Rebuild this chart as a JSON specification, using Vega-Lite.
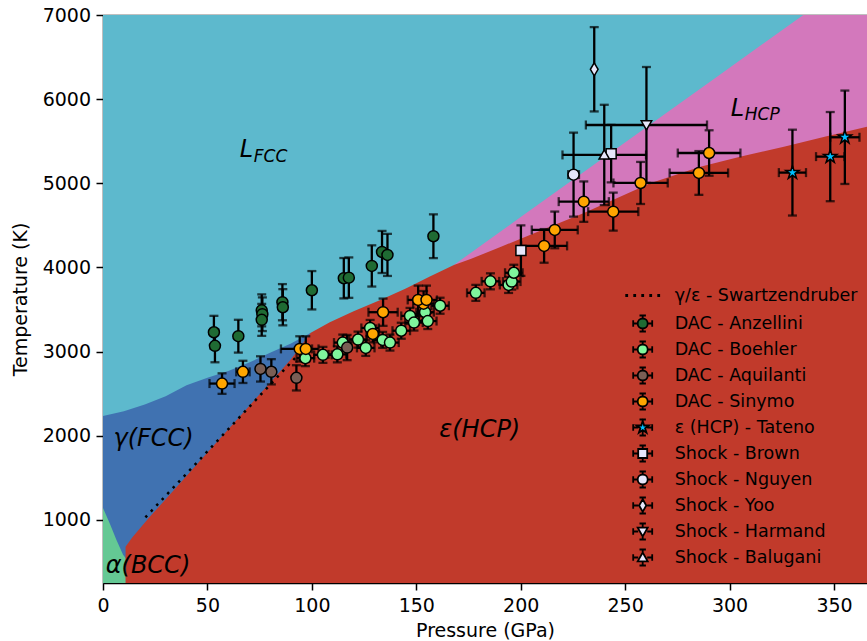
{
  "$schema": "https://vega.github.io/schema/vega-lite/v6.json",
  "width": 764,
  "height": 568,
  "autosize": {"type": "none"},
  "padding": {"left": 103, "top": 15, "right": 0, "bottom": 58},
  "background": "white",
  "config": {
    "view": {"stroke": null},
    "font": "DejaVu Sans",
    "axis": {
      "labelFont": "DejaVu Sans", "labelFontSize": 19, "labelColor": "black",
      "titleFont": "DejaVu Sans", "titleFontSize": 19, "titleFontWeight": "normal", "titleColor": "black",
      "domainColor": "black", "domainWidth": 1.5, "tickColor": "black", "tickWidth": 1.5, "tickSize": 7,
      "grid": false, "zindex": 1, "format": "d"
    }
  },
  "datasets": {
    "pts": [
      {"s": "DAC - Anzellini", "p": 53.1, "t": 3230, "pe": 0, "te": 195},
      {"s": "DAC - Anzellini", "p": 53.6, "t": 3068, "pe": 0, "te": 195},
      {"s": "DAC - Anzellini", "p": 64.8, "t": 3183, "pe": 0, "te": 195},
      {"s": "DAC - Anzellini", "p": 76.0, "t": 3490, "pe": 0, "te": 190},
      {"s": "DAC - Anzellini", "p": 76.3, "t": 3444, "pe": 0, "te": 200},
      {"s": "DAC - Anzellini", "p": 76.0, "t": 3377, "pe": 0, "te": 190},
      {"s": "DAC - Anzellini", "p": 85.9, "t": 3587, "pe": 0, "te": 215},
      {"s": "DAC - Anzellini", "p": 86.1, "t": 3527, "pe": 0, "te": 215},
      {"s": "DAC - Anzellini", "p": 100.0, "t": 3729, "pe": 0, "te": 228},
      {"s": "DAC - Anzellini", "p": 115.3, "t": 3872, "pe": 0, "te": 240},
      {"s": "DAC - Anzellini", "p": 117.7, "t": 3879, "pe": 0, "te": 240},
      {"s": "DAC - Anzellini", "p": 128.7, "t": 4018, "pe": 0, "te": 245},
      {"s": "DAC - Anzellini", "p": 133.6, "t": 4184, "pe": 0, "te": 250},
      {"s": "DAC - Anzellini", "p": 136.2, "t": 4149, "pe": 0, "te": 250},
      {"s": "DAC - Anzellini", "p": 158.2, "t": 4371, "pe": 0, "te": 260},
      {"s": "DAC - Boehler", "p": 96.9, "t": 2922, "pe": 4.2, "te": 95},
      {"s": "DAC - Boehler", "p": 105.3, "t": 2961, "pe": 4.2, "te": 95},
      {"s": "DAC - Boehler", "p": 112.2, "t": 2967, "pe": 4.2, "te": 95},
      {"s": "DAC - Boehler", "p": 114.8, "t": 3107, "pe": 4.2, "te": 95},
      {"s": "DAC - Boehler", "p": 122.1, "t": 3143, "pe": 4.2, "te": 95},
      {"s": "DAC - Boehler", "p": 125.8, "t": 3044, "pe": 4.2, "te": 95},
      {"s": "DAC - Boehler", "p": 127.9, "t": 3281, "pe": 4.2, "te": 95},
      {"s": "DAC - Boehler", "p": 133.9, "t": 3139, "pe": 4.2, "te": 95},
      {"s": "DAC - Boehler", "p": 137.4, "t": 3107, "pe": 4.2, "te": 95},
      {"s": "DAC - Boehler", "p": 142.8, "t": 3248, "pe": 4.2, "te": 95},
      {"s": "DAC - Boehler", "p": 147.0, "t": 3424, "pe": 4.2, "te": 95},
      {"s": "DAC - Boehler", "p": 148.9, "t": 3345, "pe": 4.2, "te": 95},
      {"s": "DAC - Boehler", "p": 154.2, "t": 3468, "pe": 4.2, "te": 95},
      {"s": "DAC - Boehler", "p": 155.5, "t": 3363, "pe": 4.2, "te": 95},
      {"s": "DAC - Boehler", "p": 161.4, "t": 3545, "pe": 4.2, "te": 95},
      {"s": "DAC - Boehler", "p": 178.5, "t": 3698, "pe": 4.2, "te": 95},
      {"s": "DAC - Boehler", "p": 185.5, "t": 3835, "pe": 4.2, "te": 95},
      {"s": "DAC - Boehler", "p": 194.2, "t": 3792, "pe": 4.2, "te": 95},
      {"s": "DAC - Boehler", "p": 195.7, "t": 3832, "pe": 4.2, "te": 95},
      {"s": "DAC - Boehler", "p": 196.7, "t": 3937, "pe": 4.2, "te": 95},
      {"s": "DAC - Aquilanti", "p": 75.4, "t": 2794, "pe": 0, "te": 150},
      {"s": "DAC - Aquilanti", "p": 80.6, "t": 2760, "pe": 0, "te": 150},
      {"s": "DAC - Aquilanti", "p": 92.6, "t": 2688, "pe": 0, "te": 150},
      {"s": "DAC - Aquilanti", "p": 116.9, "t": 3048, "pe": 0, "te": 150},
      {"s": "DAC - Sinymo", "p": 57.0, "t": 2620, "pe": 6, "te": 122},
      {"s": "DAC - Sinymo", "p": 67.0, "t": 2759, "pe": 3.2, "te": 132},
      {"s": "DAC - Sinymo", "p": 94.2, "t": 3032, "pe": 9, "te": 150},
      {"s": "DAC - Sinymo", "p": 97.1, "t": 3032, "pe": 3, "te": 150},
      {"s": "DAC - Sinymo", "p": 129.2, "t": 3210, "pe": 3, "te": 100},
      {"s": "DAC - Sinymo", "p": 134.1, "t": 3468, "pe": 7, "te": 162},
      {"s": "DAC - Sinymo", "p": 153.5, "t": 3570, "pe": 5, "te": 150},
      {"s": "DAC - Sinymo", "p": 150.9, "t": 3614, "pe": 5, "te": 170},
      {"s": "DAC - Sinymo", "p": 154.9, "t": 3614, "pe": 5, "te": 170},
      {"s": "DAC - Sinymo", "p": 211.2, "t": 4256, "pe": 11, "te": 200},
      {"s": "DAC - Sinymo", "p": 216.3, "t": 4446, "pe": 11, "te": 218},
      {"s": "DAC - Sinymo", "p": 230.2, "t": 4782, "pe": 12, "te": 240},
      {"s": "DAC - Sinymo", "p": 244.3, "t": 4663, "pe": 12, "te": 225},
      {"s": "DAC - Sinymo", "p": 257.4, "t": 5004, "pe": 13, "te": 250},
      {"s": "DAC - Sinymo", "p": 285.3, "t": 5123, "pe": 14, "te": 260},
      {"s": "DAC - Sinymo", "p": 290.2, "t": 5360, "pe": 15, "te": 270},
      {"s": "ε (HCP) - Tateno", "p": 330.1, "t": 5127, "pe": 6.5, "te": 510},
      {"s": "ε (HCP) - Tateno", "p": 348.2, "t": 5317, "pe": 6.8, "te": 530},
      {"s": "ε (HCP) - Tateno", "p": 355.2, "t": 5547, "pe": 7, "te": 555},
      {"s": "Shock - Brown", "p": 200.1, "t": 4200, "pe": 0, "te": 300},
      {"s": "Shock - Brown", "p": 243.3, "t": 5352, "pe": 0, "te": 342},
      {"s": "Shock - Nguyen", "p": 225.3, "t": 5103, "pe": 2.6, "te": 499},
      {"s": "Shock - Yoo", "p": 235.2, "t": 6355, "pe": 0, "te": 501},
      {"s": "Shock - Harmand", "p": 260.2, "t": 5693, "pe": 29, "te": 689},
      {"s": "Shock - Balugani", "p": 240.0, "t": 5337, "pe": 20, "te": 596}
    ]
  },
  "layer": [
    {
      "data": {"values": [{"p": 0, "t": 7000}, {"p": 365.8, "t": 7000}]},
      "mark": {"type": "area", "color": "#5db9cd", "clip": true},
      "encoding": {
        "x": {"field": "p", "type": "quantitative", "title": "Pressure (GPa)", "scale": {"domain": [0, 365.8], "nice": false, "zero": false},
              "axis": {"values": [0, 50, 100, 150, 200, 250, 300, 350], "title": "Pressure (GPa)", "labelPadding": 6.5, "titlePadding": 6, "labelFlush": false, "labelOverlap": false, "format": "d"}},
        "y": {"field": "t", "type": "quantitative", "title": "Temperature (K)", "scale": {"domain": [250, 7000], "nice": false, "zero": false},
              "axis": {"values": [1000, 2000, 3000, 4000, 5000, 6000, 7000], "title": "Temperature (K)", "labelPadding": 5.5, "titlePadding": 12, "labelFlush": false, "labelOverlap": false, "format": "d",
                       "grid": true, "gridWidth": 1.5, "gridColor": {"condition": {"test": "datum.value >= 7000", "value": "black"}, "value": "transparent"}}},
        "y2": {"datum": 250}
      }
    },
    {
      "data": {"values": [
        {"p": 0, "t": 2236}, {"p": 10, "t": 2290}, {"p": 20, "t": 2370}, {"p": 30, "t": 2470},
        {"p": 40, "t": 2600}, {"p": 50, "t": 2690}, {"p": 60, "t": 2770}, {"p": 70, "t": 2870},
        {"p": 80, "t": 2985}, {"p": 90, "t": 3095}, {"p": 99.5, "t": 3225}
      ]},
      "mark": {"type": "area", "color": "#4072b1", "clip": true},
      "encoding": {
        "x": {"field": "p", "type": "quantitative", "title": "Pressure (GPa)"},
        "y": {"field": "t", "type": "quantitative", "title": "Temperature (K)"},
        "y2": {"datum": 250}
      }
    },
    {
      "data": {"values": [
        {"p": 0, "t": 1140}, {"p": 3.2, "t": 961}, {"p": 6.4, "t": 763}, {"p": 9.6, "t": 585}, {"p": 11, "t": 540}
      ]},
      "mark": {"type": "area", "color": "#64c894", "clip": true},
      "encoding": {
        "x": {"field": "p", "type": "quantitative", "title": "Pressure (GPa)"},
        "y": {"field": "t", "type": "quantitative", "title": "Temperature (K)"},
        "y2": {"datum": 250}
      }
    },
    {
      "data": {"values": [
        {"p": 168, "t": 4030}, {"p": 176, "t": 4172}, {"p": 200, "t": 4598}, {"p": 230, "t": 5131},
        {"p": 262, "t": 5699}, {"p": 294, "t": 6267}, {"p": 335.3, "t": 7000}, {"p": 366.2, "t": 7000}
      ]},
      "mark": {"type": "area", "color": "#d378bc", "clip": true},
      "encoding": {
        "x": {"field": "p", "type": "quantitative", "title": "Pressure (GPa)"},
        "y": {"field": "t", "type": "quantitative", "title": "Temperature (K)"},
        "y2": {"datum": 250}
      }
    },
    {
      "data": {"values": [
        {"p": 10.8, "t": 680}, {"p": 14, "t": 790}, {"p": 22, "t": 1024}, {"p": 30, "t": 1246},
        {"p": 40, "t": 1523}, {"p": 50, "t": 1800}, {"p": 60, "t": 2077}, {"p": 70, "t": 2354},
        {"p": 80, "t": 2630}, {"p": 90, "t": 2908}, {"p": 99.5, "t": 3225}, {"p": 108.6, "t": 3350},
        {"p": 120, "t": 3480}, {"p": 132.5, "t": 3610}, {"p": 145, "t": 3750}, {"p": 156.5, "t": 3891},
        {"p": 168, "t": 4030}, {"p": 176, "t": 4100}, {"p": 190, "t": 4240}, {"p": 214, "t": 4485},
        {"p": 230, "t": 4644}, {"p": 262, "t": 5000}, {"p": 286, "t": 5198}, {"p": 306, "t": 5320},
        {"p": 326, "t": 5435}, {"p": 346, "t": 5555}, {"p": 366.2, "t": 5675}
      ]},
      "mark": {"type": "area", "color": "#c13a2b", "clip": true},
      "encoding": {
        "x": {"field": "p", "type": "quantitative", "title": "Pressure (GPa)"},
        "y": {"field": "t", "type": "quantitative", "title": "Temperature (K)"},
        "y2": {"datum": 250}
      }
    },
    {
      "data": {"values": [{"p": 20.3, "t": 1030}, {"p": 94.2, "t": 2981}]},
      "mark": {"type": "line", "color": "black", "strokeWidth": 2.5, "strokeDash": [2.5, 5.5], "strokeCap": "butt"},
      "encoding": {
        "x": {"field": "p", "type": "quantitative", "title": "Pressure (GPa)"},
        "y": {"field": "t", "type": "quantitative", "title": "Temperature (K)"}
      }
    },
    {
      "data": {"name": "pts"},
      "transform": [{"filter": "datum.te > 0"}],
      "mark": {"type": "errorbar", "color": "black", "ticks": {"size": 9, "thickness": 2.3, "color": "black"}, "rule": {"strokeWidth": 2.3, "color": "black"}},
      "encoding": {
        "x": {"field": "p", "type": "quantitative", "title": "Pressure (GPa)"},
        "y": {"field": "t", "type": "quantitative", "title": "Temperature (K)"},
        "yError": {"field": "te"}
      }
    },
    {
      "data": {"name": "pts"},
      "transform": [{"filter": "datum.pe > 0"}],
      "mark": {"type": "errorbar", "color": "black", "ticks": {"size": 9, "thickness": 2.3, "color": "black"}, "rule": {"strokeWidth": 2.3, "color": "black"}},
      "encoding": {
        "y": {"field": "t", "type": "quantitative", "title": "Temperature (K)"},
        "x": {"field": "p", "type": "quantitative", "title": "Pressure (GPa)"},
        "xError": {"field": "pe"}
      }
    },
    {
      "data": {"name": "pts"},
      "mark": {"type": "point", "filled": true, "stroke": "black", "strokeWidth": 1.5, "opacity": 1, "size": 121},
      "encoding": {
        "x": {"field": "p", "type": "quantitative", "title": "Pressure (GPa)"},
        "y": {"field": "t", "type": "quantitative", "title": "Temperature (K)"},
        "fill": {"field": "s", "type": "nominal", "legend": null,
          "scale": {"domain": ["DAC - Anzellini", "DAC - Boehler", "DAC - Aquilanti", "DAC - Sinymo", "ε (HCP) - Tateno", "Shock - Brown", "Shock - Nguyen", "Shock - Yoo", "Shock - Harmand", "Shock - Balugani"],
                    "range": ["#1f6b33", "#7ff59c", "#7a5e55", "#ffa500", "#00bfff", "#e6e6fa", "#e6e6fa", "#e6e6fa", "#e6e6fa", "#e6e6fa"]}},
        "shape": {"field": "s", "type": "nominal", "legend": null,
          "scale": {"domain": ["DAC - Anzellini", "DAC - Boehler", "DAC - Aquilanti", "DAC - Sinymo", "ε (HCP) - Tateno", "Shock - Brown", "Shock - Nguyen", "Shock - Yoo", "Shock - Harmand", "Shock - Balugani"],
                    "range": ["circle", "circle", "circle", "circle",
                              "M0,-1.27L0.286,-0.393L1.208,-0.392L0.462,0.15L0.746,1.027L0,0.485L-0.746,1.027L-0.462,0.15L-1.208,-0.392L-0.286,-0.393Z",
                              "M-0.91,-0.91H0.91V0.91H-0.91Z",
                              "circle",
                              "M0,-1.18L0.7,0L0,1.18L-0.7,0Z",
                              "M-0.95,-0.75H0.95L0,0.9Z",
                              "M-0.95,0.75H0.95L0,-0.9Z"]}}
      }
    },
    {
      "data": {"values": [
        {"lab": "γ(FCC)", "p": 5, "t": 1883},
        {"lab": "ε(HCP)", "p": 161, "t": 1987},
        {"lab": "α(BCC)", "p": 1.3, "t": 374},
        {"lab": "L", "p": 65.5, "t": 5313},
        {"lab": "L", "p": 300.6, "t": 5800}
      ]},
      "mark": {"type": "text", "align": "left", "baseline": "alphabetic", "fontSize": 24, "fontStyle": "italic", "font": "DejaVu Sans", "color": "black"},
      "encoding": {
        "x": {"field": "p", "type": "quantitative", "title": "Pressure (GPa)"},
        "y": {"field": "t", "type": "quantitative", "title": "Temperature (K)"},
        "text": {"field": "lab"}
      }
    },
    {
      "data": {"values": [
        {"lab": "FCC", "p": 72.2, "t": 5254},
        {"lab": "HCP", "p": 307.3, "t": 5753}
      ]},
      "mark": {"type": "text", "align": "left", "baseline": "alphabetic", "fontSize": 17, "fontStyle": "italic", "font": "DejaVu Sans", "color": "black"},
      "encoding": {
        "x": {"field": "p", "type": "quantitative", "title": "Pressure (GPa)"},
        "y": {"field": "t", "type": "quantitative", "title": "Temperature (K)"},
        "text": {"field": "lab"}
      }
    },
    {
      "data": {"name": "pts"},
      "transform": [{"filter": "false"}],
      "mark": {"type": "point", "filled": true, "stroke": "black", "strokeWidth": 1.8, "opacity": 1, "size": 400},
      "encoding": {
        "fill": {"field": "s", "type": "nominal",
          "scale": {"domain": ["γ/ε - Swartzendruber", "DAC - Anzellini", "DAC - Boehler", "DAC - Aquilanti", "DAC - Sinymo", "ε (HCP) - Tateno", "Shock - Brown", "Shock - Nguyen", "Shock - Yoo", "Shock - Harmand", "Shock - Balugani"],
                    "range": ["black", "#1f6b33", "#7ff59c", "#7a5e55", "#ffa500", "#00bfff", "#e6e6fa", "#e6e6fa", "#e6e6fa", "#e6e6fa", "#e6e6fa"]},
          "legend": {"title": null, "orient": "none", "legendX": 528.7, "legendY": 269.5, "direction": "vertical", "padding": 0,
                     "labelFont": "DejaVu Sans", "labelFontSize": 17.5, "labelColor": "black", "labelOffset": 21, "labelLimit": 0,
                     "rowPadding": 2.0, "symbolSize": 400, "symbolStrokeColor": "black", "symbolStrokeWidth": 1.8, "symbolOpacity": 1,
                     "encode": {"symbols": {"update": {"stroke": {"value": "black"}, "strokeWidth": {"value": 1.8}, "opacity": {"value": 1}}}}}},
        "shape": {"field": "s", "type": "nominal",
          "scale": {"domain": ["γ/ε - Swartzendruber", "DAC - Anzellini", "DAC - Boehler", "DAC - Aquilanti", "DAC - Sinymo", "ε (HCP) - Tateno", "Shock - Brown", "Shock - Nguyen", "Shock - Yoo", "Shock - Harmand", "Shock - Balugani"],
                    "range": [
                      "M0,-0.97L0,-0.97M0,0.97L0,0.97M-1.65,-0.05h0.1v0.1h-0.1zM-0.85,-0.05h0.1v0.1h-0.1zM-0.05,-0.05h0.1v0.1h-0.1zM0.75,-0.05h0.1v0.1h-0.1zM1.55,-0.05h0.1v0.1h-0.1z",
                      "M0,-0.8V-0.45M0,0.45V0.8M-0.32,-0.8H0.32M-0.32,0.8H0.32M-0.95,0H-0.45M0.45,0H0.95M-0.95,-0.32V0.32M0.95,-0.32V0.32M-0.5,0A0.5 0.5 0 1 0 0.5,0A0.5 0.5 0 1 0 -0.5,0Z",
                      "M0,-0.8V-0.45M0,0.45V0.8M-0.32,-0.8H0.32M-0.32,0.8H0.32M-0.95,0H-0.45M0.45,0H0.95M-0.95,-0.32V0.32M0.95,-0.32V0.32M-0.5,0A0.5 0.5 0 1 0 0.5,0A0.5 0.5 0 1 0 -0.5,0Z",
                      "M0,-0.8V-0.45M0,0.45V0.8M-0.32,-0.8H0.32M-0.32,0.8H0.32M-0.95,0H-0.45M0.45,0H0.95M-0.95,-0.32V0.32M0.95,-0.32V0.32M-0.5,0A0.5 0.5 0 1 0 0.5,0A0.5 0.5 0 1 0 -0.5,0Z",
                      "M0,-0.8V-0.45M0,0.45V0.8M-0.32,-0.8H0.32M-0.32,0.8H0.32M-0.95,0H-0.45M0.45,0H0.95M-0.95,-0.32V0.32M0.95,-0.32V0.32M-0.5,0A0.5 0.5 0 1 0 0.5,0A0.5 0.5 0 1 0 -0.5,0Z",
                      "M0,-0.8V-0.45M0,0.45V0.8M-0.32,-0.8H0.32M-0.32,0.8H0.32M-0.95,0H-0.45M0.45,0H0.95M-0.95,-0.32V0.32M0.95,-0.32V0.32M0,-0.65L0.147,-0.202L0.618,-0.2L0.238,0.077L0.382,0.526L0,0.25L-0.382,0.526L-0.238,0.077L-0.618,-0.2L-0.147,-0.202Z",
                      "M0,-0.8V-0.45M0,0.45V0.8M-0.32,-0.8H0.32M-0.32,0.8H0.32M-0.95,0H-0.45M0.45,0H0.95M-0.95,-0.32V0.32M0.95,-0.32V0.32M-0.45,-0.45H0.45V0.45H-0.45Z",
                      "M0,-0.8V-0.45M0,0.45V0.8M-0.32,-0.8H0.32M-0.32,0.8H0.32M-0.95,0H-0.45M0.45,0H0.95M-0.95,-0.32V0.32M0.95,-0.32V0.32M-0.5,0A0.5 0.5 0 1 0 0.5,0A0.5 0.5 0 1 0 -0.5,0Z",
                      "M0,-0.8V-0.45M0,0.45V0.8M-0.32,-0.8H0.32M-0.32,0.8H0.32M-0.95,0H-0.45M0.45,0H0.95M-0.95,-0.32V0.32M0.95,-0.32V0.32M0,-0.62L0.36,0L0,0.62L-0.36,0Z",
                      "M0,-0.8V-0.45M0,0.45V0.8M-0.32,-0.8H0.32M-0.32,0.8H0.32M-0.95,0H-0.45M0.45,0H0.95M-0.95,-0.32V0.32M0.95,-0.32V0.32M-0.5,-0.38H0.5L0,0.5Z",
                      "M0,-0.8V-0.45M0,0.45V0.8M-0.32,-0.8H0.32M-0.32,0.8H0.32M-0.95,0H-0.45M0.45,0H0.95M-0.95,-0.32V0.32M0.95,-0.32V0.32M-0.5,0.38H0.5L0,-0.5Z"
                    ]},
          "legend": {"title": null, "orient": "none", "legendX": 528.7, "legendY": 269.5, "direction": "vertical", "padding": 0,
                     "labelFont": "DejaVu Sans", "labelFontSize": 17.5, "labelColor": "black", "labelOffset": 21, "labelLimit": 0,
                     "rowPadding": 2.0, "symbolSize": 400, "symbolStrokeColor": "black", "symbolStrokeWidth": 1.8, "symbolOpacity": 1,
                     "encode": {"symbols": {"update": {"stroke": {"value": "black"}, "strokeWidth": {"value": 1.8}, "opacity": {"value": 1}}}}}}
      }
    }
  ],
  "resolve": {"scale": {"fill": "independent", "shape": "independent"}}
}
